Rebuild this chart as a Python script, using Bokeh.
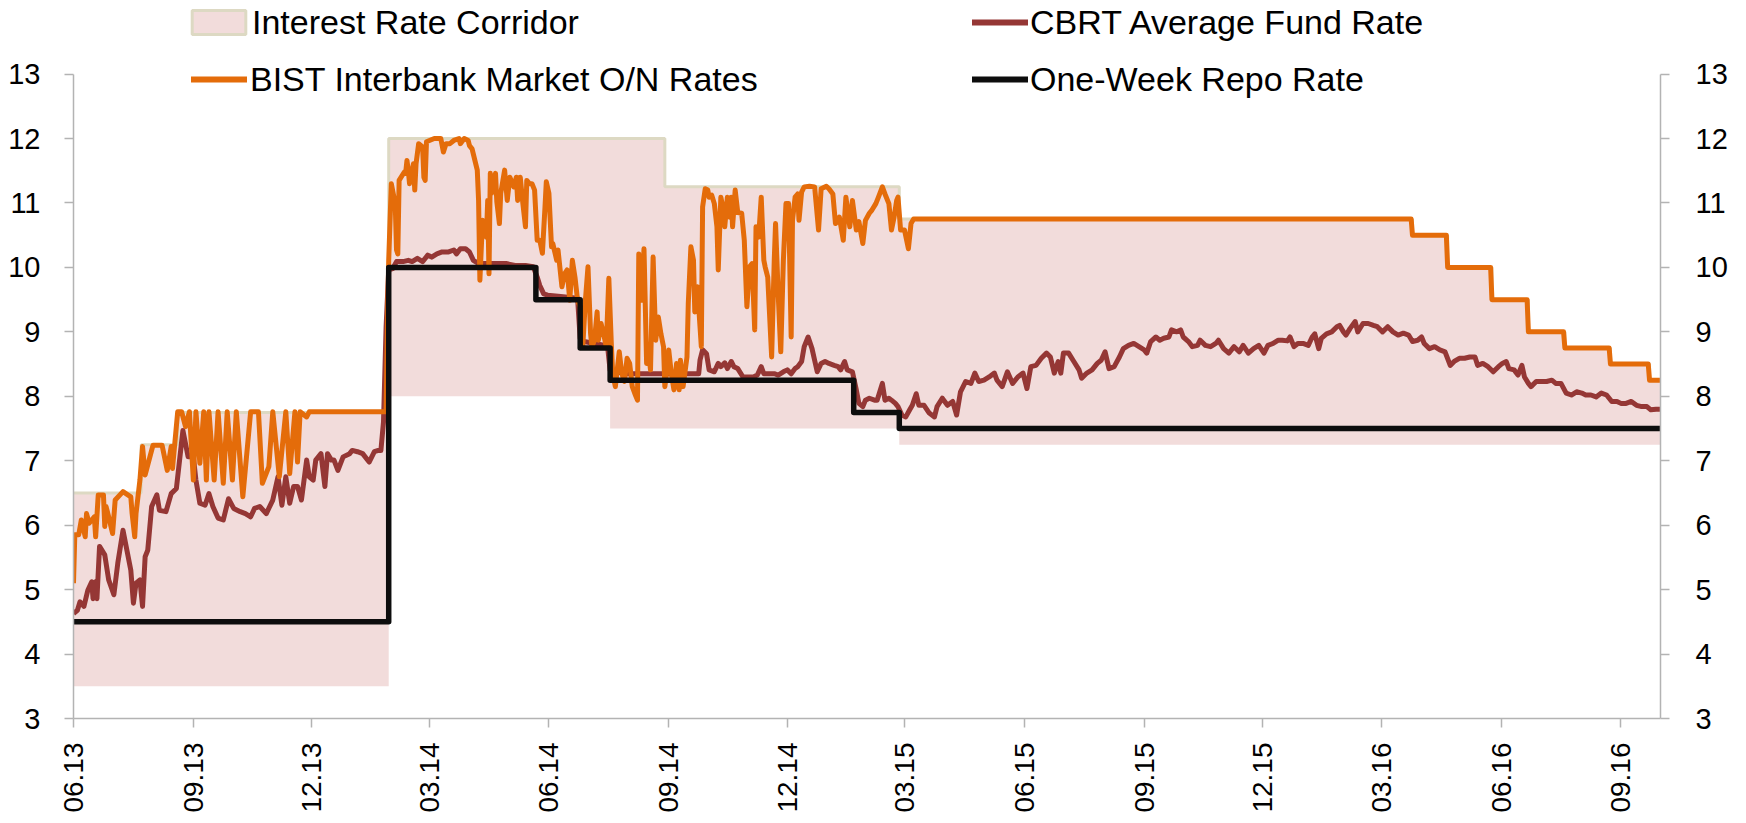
import pandas as pd
from bokeh.plotting import figure
from bokeh.models import (Range1d, LinearAxis, FixedTicker, DatetimeTickFormatter,
                          Legend, LegendItem)
from bokeh.embed import file_html
from bokeh.resources import INLINE

# ---------------- data ----------------
series_start = "2013-06-01"
series_end = "2016-10-01"

corridor_dates = ["2013-06-01", "2013-07-23", "2013-08-20", "2014-01-29", "2014-07-18",
                  "2014-08-29", "2015-02-25", "2016-03-25", "2016-04-21", "2016-05-25",
                  "2016-06-22", "2016-07-20", "2016-08-24", "2016-09-23"]
corridor_lower = [3.5, 3.5, 3.5, 8.0, 7.5, 7.5, 7.25, 7.25, 7.25, 7.25, 7.25, 7.25, 7.25, 7.25]
corridor_upper = [6.5, 7.25, 7.75, 12.0, 12.0, 11.25, 10.75, 10.5, 10.0, 9.5, 9.0, 8.75, 8.5, 8.25]

repo_dates = ["2013-06-01", "2014-01-29", "2014-05-22", "2014-06-25", "2014-07-18",
              "2015-01-21", "2015-02-25"]
repo_rate = [4.5, 10.0, 9.5, 8.75, 8.25, 7.75, 7.5]

bist_obs = """
2013-06-01 5.10|2013-06-02 5.85|2013-06-05 5.85|2013-06-07 6.08|2013-06-10 5.82|2013-06-11 6.18
2013-06-13 6.03|2013-06-17 6.13|2013-06-18 5.82|2013-06-20 6.47|2013-06-24 6.47|2013-06-25 5.98
2013-06-26 6.29|2013-06-28 6.13|2013-07-01 5.87|2013-07-03 6.39|2013-07-09 6.52|2013-07-15 6.44
2013-07-16 6.18|2013-07-18 5.82|2013-07-19 6.18|2013-07-22 6.70|2013-07-24 7.22|2013-07-26 6.78
2013-07-29 7.01|2013-08-01 7.24|2013-08-08 7.24|2013-08-12 6.85|2013-08-15 7.22|2013-08-16 6.88
2013-08-20 7.76|2013-08-23 7.76|2013-08-26 7.53|2013-08-29 7.76|2013-09-01 6.70|2013-09-03 7.76
2013-09-06 6.96|2013-09-09 7.76|2013-09-11 6.70|2013-09-13 7.76|2013-09-17 6.70|2013-09-20 7.76
2013-09-24 6.65|2013-09-27 7.76|2013-10-01 6.70|2013-10-04 7.76|2013-10-09 6.44|2013-10-15 7.76
2013-10-21 7.76|2013-10-24 6.65|2013-10-29 6.91|2013-11-01 7.76|2013-11-06 6.75|2013-11-11 7.76
2013-11-14 6.80|2013-11-18 7.76|2013-11-20 6.98|2013-11-22 7.76|2013-11-27 7.68|2013-11-29 7.76
2014-01-27 7.76|2014-01-28 9.03|2014-01-29 10.11|2014-01-31 11.30|2014-02-03 10.99|2014-02-04 10.27
2014-02-05 10.21|2014-02-06 11.35|2014-02-10 11.48|2014-02-11 11.46|2014-02-12 11.66|2014-02-13 11.51
2014-02-14 11.30|2014-02-17 11.61|2014-02-18 11.20|2014-02-19 11.61|2014-02-21 11.92|2014-02-24 11.87
2014-02-25 11.40|2014-02-26 11.35|2014-02-27 11.95|2014-03-05 12.00|2014-03-10 12.00|2014-03-12 11.79
2014-03-14 11.92|2014-03-17 11.92|2014-03-20 11.97|2014-03-24 12.00|2014-03-25 11.92|2014-03-28 12.00
2014-03-31 11.97|2014-04-01 11.89|2014-04-03 11.84|2014-04-07 11.51|2014-04-08 11.04|2014-04-09 9.80
2014-04-11 10.73|2014-04-14 10.47|2014-04-15 11.04|2014-04-16 9.90|2014-04-17 11.46|2014-04-18 11.15
2014-04-21 11.46|2014-04-22 11.02|2014-04-24 10.68|2014-04-25 11.15|2014-04-28 11.51|2014-04-30 11.04
2014-05-02 11.40|2014-05-05 11.25|2014-05-07 11.40|2014-05-08 11.04|2014-05-10 11.40|2014-05-12 10.99
2014-05-14 10.63|2014-05-15 11.35|2014-05-17 11.30|2014-05-19 11.30|2014-05-21 11.20|2014-05-23 10.42
2014-05-25 10.42|2014-05-27 10.22|2014-05-29 10.94|2014-05-30 11.33|2014-06-01 11.15|2014-06-03 10.32
2014-06-04 10.37|2014-06-07 10.11|2014-06-08 10.27|2014-06-11 9.70|2014-06-13 9.90|2014-06-15 9.96
2014-06-17 9.49|2014-06-19 10.11|2014-06-21 9.85|2014-06-23 9.49|2014-06-25 9.39|2014-06-27 8.77
2014-06-29 9.49|2014-07-01 10.01|2014-07-03 8.97|2014-07-04 8.77|2014-07-06 8.87|2014-07-08 9.31
2014-07-09 8.87|2014-07-11 9.13|2014-07-13 8.97|2014-07-15 8.77|2014-07-17 9.83|2014-07-19 8.77
2014-07-20 8.35|2014-07-22 8.15|2014-07-25 8.69|2014-07-27 8.35|2014-07-29 8.23|2014-07-31 8.59
2014-08-02 8.51|2014-08-04 8.15|2014-08-06 8.04|2014-08-08 7.94|2014-08-09 10.21|2014-08-11 9.49
2014-08-13 10.29|2014-08-15 8.51|2014-08-16 8.77|2014-08-18 8.41|2014-08-20 10.16|2014-08-22 8.87
2014-08-24 9.23|2014-08-26 8.97|2014-08-28 8.77|2014-08-29 8.15|2014-08-31 8.46|2014-09-01 8.72
2014-09-03 8.35|2014-09-05 8.10|2014-09-07 8.51|2014-09-09 8.10|2014-09-10 8.56|2014-09-12 8.15
2014-09-15 8.61|2014-09-16 9.44|2014-09-18 10.32|2014-09-20 10.11|2014-09-21 9.31|2014-09-23 9.70
2014-09-25 9.08|2014-09-26 8.77|2014-09-27 10.94|2014-09-29 11.22|2014-10-01 11.20|2014-10-02 11.09
2014-10-04 11.12|2014-10-06 10.99|2014-10-08 10.63|2014-10-09 9.96|2014-10-11 11.09|2014-10-13 10.89
2014-10-14 10.63|2014-10-16 11.09|2014-10-18 10.78|2014-10-19 11.09|2014-10-20 10.63|2014-10-22 11.20
2014-10-24 10.85|2014-10-27 10.84|2014-10-29 10.42|2014-10-31 9.39|2014-11-02 10.01|2014-11-04 10.06
2014-11-06 9.03|2014-11-07 10.63|2014-11-09 10.47|2014-11-11 11.09|2014-11-13 10.11|2014-11-14 10.01
2014-11-16 9.85|2014-11-19 8.61|2014-11-21 10.11|2014-11-22 10.68|2014-11-24 9.60|2014-11-26 8.69
2014-11-28 10.11|2014-11-30 10.99|2014-12-02 10.99|2014-12-04 8.92|2014-12-05 10.73|2014-12-07 11.09
2014-12-09 11.14|2014-12-10 10.73|2014-12-12 11.17|2014-12-14 11.25|2014-12-18 11.26|2014-12-22 11.25
2014-12-25 10.58|2014-12-27 11.22|2014-12-31 11.26|2015-01-02 11.22|2015-01-05 11.14|2015-01-07 10.68
2015-01-10 10.78|2015-01-13 10.42|2015-01-15 11.09|2015-01-18 10.63|2015-01-20 11.04|2015-01-23 10.58
2015-01-25 10.71|2015-01-28 10.37|2015-01-30 10.73|2015-02-02 10.84|2015-02-04 10.89|2015-02-07 10.99
2015-02-09 11.09|2015-02-12 11.25|2015-02-14 11.14|2015-02-17 10.99|2015-02-19 10.58|2015-02-21 10.78
2015-02-23 11.04|2015-02-24 11.09|2015-02-26 10.58|2015-03-01 10.58|2015-03-04 10.29|2015-03-06 10.68
2015-03-08 10.75|2016-03-24 10.75|2016-03-25 10.50|2016-04-20 10.50|2016-04-21 10.00|2016-05-24 10.00
2016-05-25 9.50|2016-06-21 9.50|2016-06-22 9.00|2016-07-19 9.00|2016-07-20 8.75|2016-08-23 8.75
2016-08-24 8.50|2016-09-22 8.50|2016-09-23 8.25|2016-10-01 8.25
"""

cbrt_obs = """
2013-06-01 4.63|2013-06-04 4.68|2013-06-06 4.81|2013-06-09 4.74|2013-06-12 4.99|2013-06-15 5.12
2013-06-16 4.86|2013-06-18 5.12|2013-06-19 4.86|2013-06-21 5.67|2013-06-25 5.54|2013-06-28 5.15
2013-07-02 4.92|2013-07-05 5.41|2013-07-09 5.92|2013-07-12 5.61|2013-07-15 5.30|2013-07-17 4.79
2013-07-19 5.10|2013-07-22 5.15|2013-07-24 4.74|2013-07-26 5.51|2013-07-28 5.61|2013-07-31 6.29
2013-08-04 6.47|2013-08-06 6.23|2013-08-11 6.21|2013-08-15 6.49|2013-08-19 6.57|2013-08-22 7.11
2013-08-24 7.47|2013-08-28 7.06|2013-09-01 7.06|2013-09-03 6.70|2013-09-06 6.34|2013-09-10 6.31
2013-09-13 6.49|2013-09-16 6.29|2013-09-20 6.11|2013-09-24 6.08|2013-09-28 6.41|2013-10-02 6.26
2013-10-07 6.21|2013-10-11 6.18|2013-10-15 6.13|2013-10-18 6.26|2013-10-22 6.29|2013-10-27 6.18
2013-11-01 6.39|2013-11-05 6.75|2013-11-08 6.31|2013-11-11 6.75|2013-11-14 6.34|2013-11-17 6.60
2013-11-20 6.60|2013-11-23 6.39|2013-11-27 7.01|2013-11-29 6.75|2013-12-02 6.70|2013-12-04 7.01
2013-12-08 7.11|2013-12-11 6.60|2013-12-13 7.11|2013-12-16 7.01|2013-12-18 7.01|2013-12-21 6.85
2013-12-25 7.06|2013-12-30 7.11|2014-01-01 7.16|2014-01-05 7.14|2014-01-09 7.11|2014-01-14 6.98
2014-01-18 7.14|2014-01-21 7.16|2014-01-23 7.16|2014-01-25 7.60|2014-01-27 9.08|2014-01-29 9.96
2014-02-01 9.98|2014-02-04 10.09|2014-02-09 10.09|2014-02-13 10.11|2014-02-16 10.09|2014-02-20 10.14
2014-02-24 10.09|2014-02-28 10.19|2014-03-03 10.16|2014-03-07 10.21|2014-03-11 10.24|2014-03-16 10.24
2014-03-20 10.27|2014-03-22 10.21|2014-03-25 10.29|2014-03-29 10.29|2014-04-01 10.24|2014-04-04 10.11
2014-04-08 10.06|2014-04-13 10.06|2014-04-21 10.06|2014-04-29 10.06|2014-05-06 10.03|2014-05-14 10.03
2014-05-20 10.01|2014-05-23 9.85|2014-05-25 9.72|2014-05-28 9.59|2014-05-31 9.57|2014-06-10 9.55
2014-06-23 9.52|2014-06-25 8.90|2014-06-28 8.85|2014-07-16 8.78|2014-07-18 8.40|2014-07-20 8.40
2014-07-29 8.35|2014-08-24 8.35|2014-09-24 8.35|2014-09-25 8.56|2014-09-27 8.72|2014-09-30 8.66
2014-10-02 8.41|2014-10-06 8.38|2014-10-09 8.51|2014-10-11 8.46|2014-10-14 8.52|2014-10-16 8.43
2014-10-19 8.54|2014-10-21 8.46|2014-10-24 8.43|2014-10-28 8.30|2014-11-01 8.30|2014-11-05 8.30
2014-11-08 8.33|2014-11-11 8.46|2014-11-13 8.35|2014-11-17 8.35|2014-11-21 8.35|2014-11-24 8.33
2014-11-28 8.38|2014-12-01 8.41|2014-12-04 8.35|2014-12-07 8.43|2014-12-09 8.46|2014-12-12 8.54
2014-12-14 8.77|2014-12-17 8.92|2014-12-20 8.74|2014-12-22 8.56|2014-12-24 8.38|2014-12-27 8.51
2014-12-30 8.54|2015-01-02 8.51|2015-01-06 8.48|2015-01-09 8.46|2015-01-11 8.41|2015-01-14 8.54
2015-01-16 8.41|2015-01-20 8.38|2015-01-23 8.10|2015-01-25 7.89|2015-01-28 7.84|2015-01-30 7.94
2015-02-02 7.97|2015-02-06 7.94|2015-02-08 7.94|2015-02-12 8.20|2015-02-14 7.94|2015-02-17 7.97
2015-02-19 7.94|2015-02-22 7.89|2015-02-24 7.84|2015-02-27 7.71|2015-03-02 7.68|2015-03-05 7.79
2015-03-07 7.86|2015-03-10 8.04|2015-03-12 7.86|2015-03-16 7.86|2015-03-20 7.74|2015-03-24 7.68
2015-03-26 7.84|2015-03-30 7.97|2015-04-03 7.86|2015-04-07 7.92|2015-04-10 7.71|2015-04-13 8.07
2015-04-17 8.23|2015-04-21 8.20|2015-04-24 8.36|2015-04-27 8.23|2015-05-01 8.25|2015-05-05 8.30
2015-05-09 8.36|2015-05-11 8.25|2015-05-15 8.15|2015-05-19 8.38|2015-05-23 8.20|2015-05-27 8.30
2015-05-31 8.36|2015-06-03 8.12|2015-06-06 8.46|2015-06-10 8.48|2015-06-14 8.59|2015-06-18 8.67
2015-06-21 8.61|2015-06-24 8.36|2015-06-27 8.54|2015-06-29 8.36|2015-07-01 8.67|2015-07-05 8.67
2015-07-09 8.54|2015-07-13 8.41|2015-07-15 8.28|2015-07-19 8.36|2015-07-23 8.41|2015-07-27 8.51
2015-07-30 8.56|2015-08-02 8.69|2015-08-05 8.43|2015-08-09 8.46|2015-08-13 8.61|2015-08-16 8.74
2015-08-20 8.79|2015-08-24 8.82|2015-08-28 8.77|2015-09-01 8.72|2015-09-03 8.67|2015-09-06 8.85
2015-09-10 8.92|2015-09-13 8.87|2015-09-16 8.90|2015-09-20 8.92|2015-09-22 9.03|2015-09-26 9.00
2015-09-29 9.03|2015-10-01 8.92|2015-10-05 8.85|2015-10-08 8.77|2015-10-12 8.79|2015-10-14 8.87
2015-10-18 8.79|2015-10-22 8.77|2015-10-26 8.82|2015-10-28 8.87|2015-11-01 8.74|2015-11-05 8.67
2015-11-09 8.77|2015-11-13 8.69|2015-11-16 8.79|2015-11-20 8.67|2015-11-24 8.74|2015-11-28 8.79
2015-12-02 8.67|2015-12-05 8.79|2015-12-09 8.82|2015-12-13 8.87|2015-12-16 8.87|2015-12-20 8.86
2015-12-22 8.92|2015-12-25 8.77|2015-12-28 8.82|2016-01-01 8.82|2016-01-05 8.79|2016-01-08 8.92
2016-01-10 8.97|2016-01-13 8.74|2016-01-15 8.90|2016-01-19 8.97|2016-01-23 9.00|2016-01-27 9.08
2016-01-29 9.10|2016-02-01 9.00|2016-02-03 8.95|2016-02-06 9.05|2016-02-10 9.16|2016-02-12 9.00
2016-02-16 9.13|2016-02-20 9.13|2016-02-24 9.10|2016-02-27 9.08|2016-03-02 9.00|2016-03-06 9.08
2016-03-10 9.00|2016-03-14 8.95|2016-03-18 8.98|2016-03-22 8.95|2016-03-25 8.85|2016-03-29 8.87
2016-04-01 8.92|2016-04-03 8.82|2016-04-07 8.74|2016-04-11 8.77|2016-04-15 8.72|2016-04-19 8.69
2016-04-23 8.48|2016-04-26 8.54|2016-04-30 8.59|2016-05-04 8.59|2016-05-08 8.61|2016-05-12 8.61
2016-05-14 8.48|2016-05-18 8.51|2016-05-22 8.46|2016-05-26 8.38|2016-05-30 8.46|2016-06-02 8.51
2016-06-05 8.54|2016-06-07 8.43|2016-06-11 8.41|2016-06-14 8.33|2016-06-17 8.48|2016-06-19 8.30
2016-06-22 8.20|2016-06-24 8.15|2016-06-28 8.23|2016-07-02 8.23|2016-07-06 8.23|2016-07-10 8.25
2016-07-13 8.20|2016-07-17 8.20|2016-07-21 8.05|2016-07-25 8.02|2016-07-29 8.07|2016-08-02 8.05
2016-08-05 8.02|2016-08-09 8.02|2016-08-13 7.99|2016-08-17 8.05|2016-08-21 8.02|2016-08-25 7.92
2016-08-29 7.92|2016-09-01 7.89|2016-09-05 7.89|2016-09-09 7.92|2016-09-13 7.86|2016-09-17 7.84
2016-09-21 7.84|2016-09-24 7.79|2016-09-28 7.80|2016-10-01 7.80
"""

quarter_ticks = ["2013-06-01", "2013-09-01", "2013-12-01", "2014-03-01", "2014-06-01",
                 "2014-09-01", "2014-12-01", "2015-03-01", "2015-06-01", "2015-09-01",
                 "2015-12-01", "2016-03-01", "2016-06-01", "2016-09-01"]
y_ticks = [3, 4, 5, 6, 7, 8, 9, 10, 11, 12, 13]

legend_labels = ["Interest Rate Corridor", "BIST Interbank Market O/N Rates",
                 "CBRT Average Fund Rate", "One-Week Repo Rate"]

C_FILL = "#F2DCDB"
C_EDGE = "#DDD9C3"
C_BIST = "#E46C0A"
C_CBRT = "#953735"
C_REPO = "#0D0D0D"
C_AXIS = "#B3B3B3"
FONT = "Liberation Sans"


def parse(obs):
    pairs = [tok.split() for tok in obs.replace("\n", "|").split("|") if tok.strip()]
    return pd.to_datetime([a for a, b in pairs]), [float(b) for a, b in pairs]


def steps(dates, *vals):
    d = list(pd.to_datetime(dates + [series_end]))
    xs = []
    out = [[] for _ in vals]
    for i in range(len(dates)):
        xs += [d[i], d[i + 1]]
        for k, v in enumerate(vals):
            out[k] += [v[i], v[i]]
    return xs, out


bist_x, bist_y = parse(bist_obs)
cbrt_x, cbrt_y = parse(cbrt_obs)
cx, (clo, chi) = steps(corridor_dates, corridor_lower, corridor_upper)
rx, (ry,) = steps(repo_dates, repo_rate)

x0 = pd.Timestamp(series_start)
x1 = pd.Timestamp(series_end) + pd.Timedelta(hours=10)

p = figure(width=1730, height=815, x_axis_type="datetime", title=None,
           x_range=Range1d(x0, x1), y_range=Range1d(3, 14.142),
           output_backend="svg", toolbar_location=None,
           min_border_left=73, min_border_right=66, min_border_top=0, min_border_bottom=96)
p.outline_line_color = None
p.xgrid.visible = False
p.ygrid.visible = False
p.background_fill_color = "white"
p.border_fill_color = "white"

p.varea(x=cx, y1=clo, y2=chi, fill_color=C_FILL)
p.line(x=cx, y=chi, line_color=C_EDGE, line_width=3)
p.line(x=cbrt_x, y=cbrt_y, line_color=C_CBRT, line_width=5, line_join="round")
p.line(x=bist_x, y=bist_y, line_color=C_BIST, line_width=5, line_join="round")
p.line(x=rx, y=ry, line_color=C_REPO, line_width=5.5, line_join="round")

# legend swatches (one undefined point each, so nothing shows in the plot area)
nan = float("nan")
lg_corr = p.quad(left=[x0], right=[x0], top=[nan], bottom=[nan], fill_color=C_FILL,
                 line_color=C_EDGE, line_width=3)
lg_bist = p.line(x=[x0], y=[nan], line_color=C_BIST, line_width=6, line_cap="round")
lg_cbrt = p.line(x=[x0], y=[nan], line_color=C_CBRT, line_width=6, line_cap="round")
lg_repo = p.line(x=[x0], y=[nan], line_color=C_REPO, line_width=6, line_cap="round")


def make_legend(label, rend, loc, gw, gh, standoff):
    lg = Legend(items=[LegendItem(label=label, renderers=[rend])], location=loc,
                glyph_width=gw, glyph_height=gh, label_height=40, label_standoff=standoff,
                padding=0, margin=0, spacing=0, border_line_color=None,
                background_fill_alpha=0, label_text_font=FONT,
                label_text_font_size="34px", label_text_color="black")
    p.add_layout(lg)


make_legend(legend_labels[0], lg_corr, (112, 676), 67, 30, 0)
make_legend(legend_labels[1], lg_bist, (118, 619), 56, 40, 3)
make_legend(legend_labels[2], lg_cbrt, (899, 676), 56, 40, 2)
make_legend(legend_labels[3], lg_repo, (899, 619), 56, 40, 2)

# axes
xa = p.xaxis[0]
xa.ticker = FixedTicker(ticks=[pd.Timestamp(t).timestamp() * 1000 for t in quarter_ticks],
                        minor_ticks=[])
xa.formatter = DatetimeTickFormatter(days="%m.%y", months="%m.%y", years="%m.%y")
xa.major_label_orientation = 3.14159265 / 2
xa.major_label_text_font = FONT
xa.major_label_text_font_size = "28px"
xa.major_label_standoff = 15

ya = p.yaxis[0]
ya.ticker = FixedTicker(ticks=y_ticks, minor_ticks=[])
ya.bounds = (3, 13)
ya.major_label_standoff = 24
ra = LinearAxis(ticker=FixedTicker(ticks=y_ticks, minor_ticks=[]), bounds=(3, 13),
                major_label_standoff=26)
p.add_layout(ra, "right")

for ax in (xa, ya, ra):
    ax.axis_line_color = C_AXIS
    ax.axis_line_width = 1.5
    ax.major_tick_line_color = C_AXIS
    ax.major_tick_line_width = 1.5
    ax.major_tick_out = 9
    ax.major_tick_in = 0
    ax.minor_tick_line_color = None
    ax.major_label_text_color = "black"
for ax in (ya, ra):
    ax.major_label_text_font = FONT
    ax.major_label_text_font_size = "29px"

open("out.html", "w").write(file_html(p, INLINE))
